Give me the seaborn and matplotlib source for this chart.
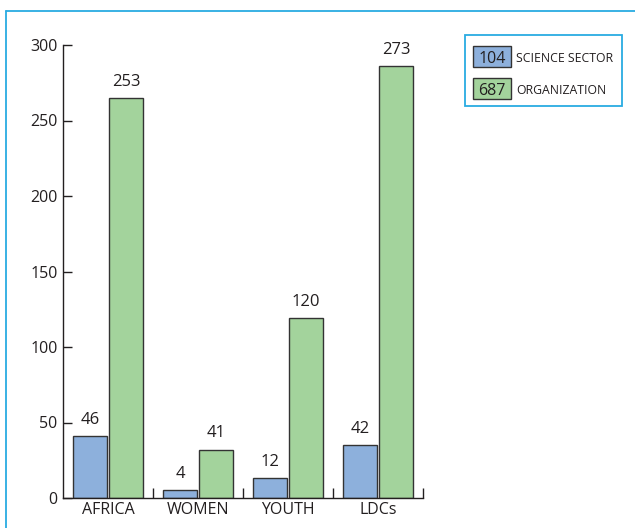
import pandas as pd
import matplotlib
matplotlib.use("Agg")
import matplotlib.pyplot as plt
from matplotlib.patches import Rectangle
from matplotlib.lines import Line2D
import seaborn as sns

CATEGORIES = ["AFRICA", "WOMEN", "YOUTH", "LDCs"]
SERIES = ["SCIENCE SECTOR", "ORGANIZATION"]
# bar heights as drawn in the picture
SCIENCE_HEIGHTS = [41, 5, 13, 35]
ORG_HEIGHTS = [265, 32, 119, 286]
# numbers printed above the bars
SCIENCE_LABELS = ["46", "4", "12", "42"]
ORG_LABELS = ["253", "41", "120", "273"]
TOTALS = ["104", "687"]
Y_TICKS = [0, 50, 100, 150, 200, 250, 300]

BLUE = "#8DB0DC"
GREEN = "#A3D39C"
FRAME = "#29ABE2"
EDGE = "#333333"
INK = "#231F20"

sns.set_style("white")
plt.rcParams["font.family"] = ["Open Sans", "DejaVu Sans"]

df = pd.DataFrame({
    "category": CATEGORIES * 2,
    "series": [SERIES[0]] * 4 + [SERIES[1]] * 4,
    "value": SCIENCE_HEIGHTS + ORG_HEIGHTS,
    "label": SCIENCE_LABELS + ORG_LABELS,
})

W, H = 635, 528
fig = plt.figure(figsize=(W / 100, H / 100), dpi=100)
ax = fig.add_axes([63 / W, 30 / H, 360 / W, 453 / H])

sns.barplot(data=df, x="category", y="value", hue="series", order=CATEGORIES,
            hue_order=SERIES, palette={SERIES[0]: BLUE, SERIES[1]: GREEN},
            gap=0.075, edgecolor=EDGE, linewidth=1.0, saturation=1, ax=ax,
            legend=False)

labels = {SERIES[0]: SCIENCE_LABELS, SERIES[1]: ORG_LABELS}
for cont, s in zip(ax.containers, SERIES):
    ax.bar_label(cont, labels=labels[s], padding=6, fontsize=12, color=INK)

ax.set_xlim(-0.5, 3.5)
ax.set_ylim(0, 300)
ax.set_yticks(Y_TICKS)
ax.set_xlabel("")
ax.set_ylabel("")
for side in ["top", "right"]:
    ax.spines[side].set_visible(False)
for side in ["left", "bottom"]:
    ax.spines[side].set_color(INK)
    ax.spines[side].set_linewidth(1.0)

ax.tick_params(axis="y", direction="in", length=6.5, width=1, color=INK,
               labelsize=11.5, pad=4, left=True)
ax.tick_params(axis="x", which="major", length=0, labelsize=11.5, pad=3)
ax.set_xticks([0.5, 1.5, 2.5, 3.5], minor=True)
ax.tick_params(axis="x", which="minor", direction="in", length=7, width=1,
               color=INK, bottom=True)
for t in ax.get_xticklabels() + ax.get_yticklabels():
    t.set_color(INK)

# outer frame lines
fig.add_artist(Line2D([6 / W, 6 / W], [0, 1 - 11 / H], color=FRAME, lw=1.3))
fig.add_artist(Line2D([6 / W, 1], [1 - 11 / H, 1 - 11 / H], color=FRAME, lw=1.3))

# legend box
fig.add_artist(Rectangle((465 / W, 1 - 106 / H), 157 / W, 71 / H,
                         fill=False, edgecolor=FRAME, lw=1.3))
for i, (name, total, col) in enumerate(zip(SERIES, TOTALS, [BLUE, GREEN])):
    top = 46 + i * 32
    fig.add_artist(Rectangle((473 / W, 1 - (top + 21) / H), 38 / W, 21 / H,
                             facecolor=col, edgecolor=EDGE, lw=1.0))
    fig.text(492 / W, 1 - (top + 11) / H, total, ha="center",
             va="center_baseline", fontsize=11.5, color=INK)
    fig.text(516 / W, 1 - (top + 11) / H, name, ha="left",
             va="center_baseline", fontsize=8.8, color=INK)

plt.savefig("out.png", dpi=100)
plt.close()
